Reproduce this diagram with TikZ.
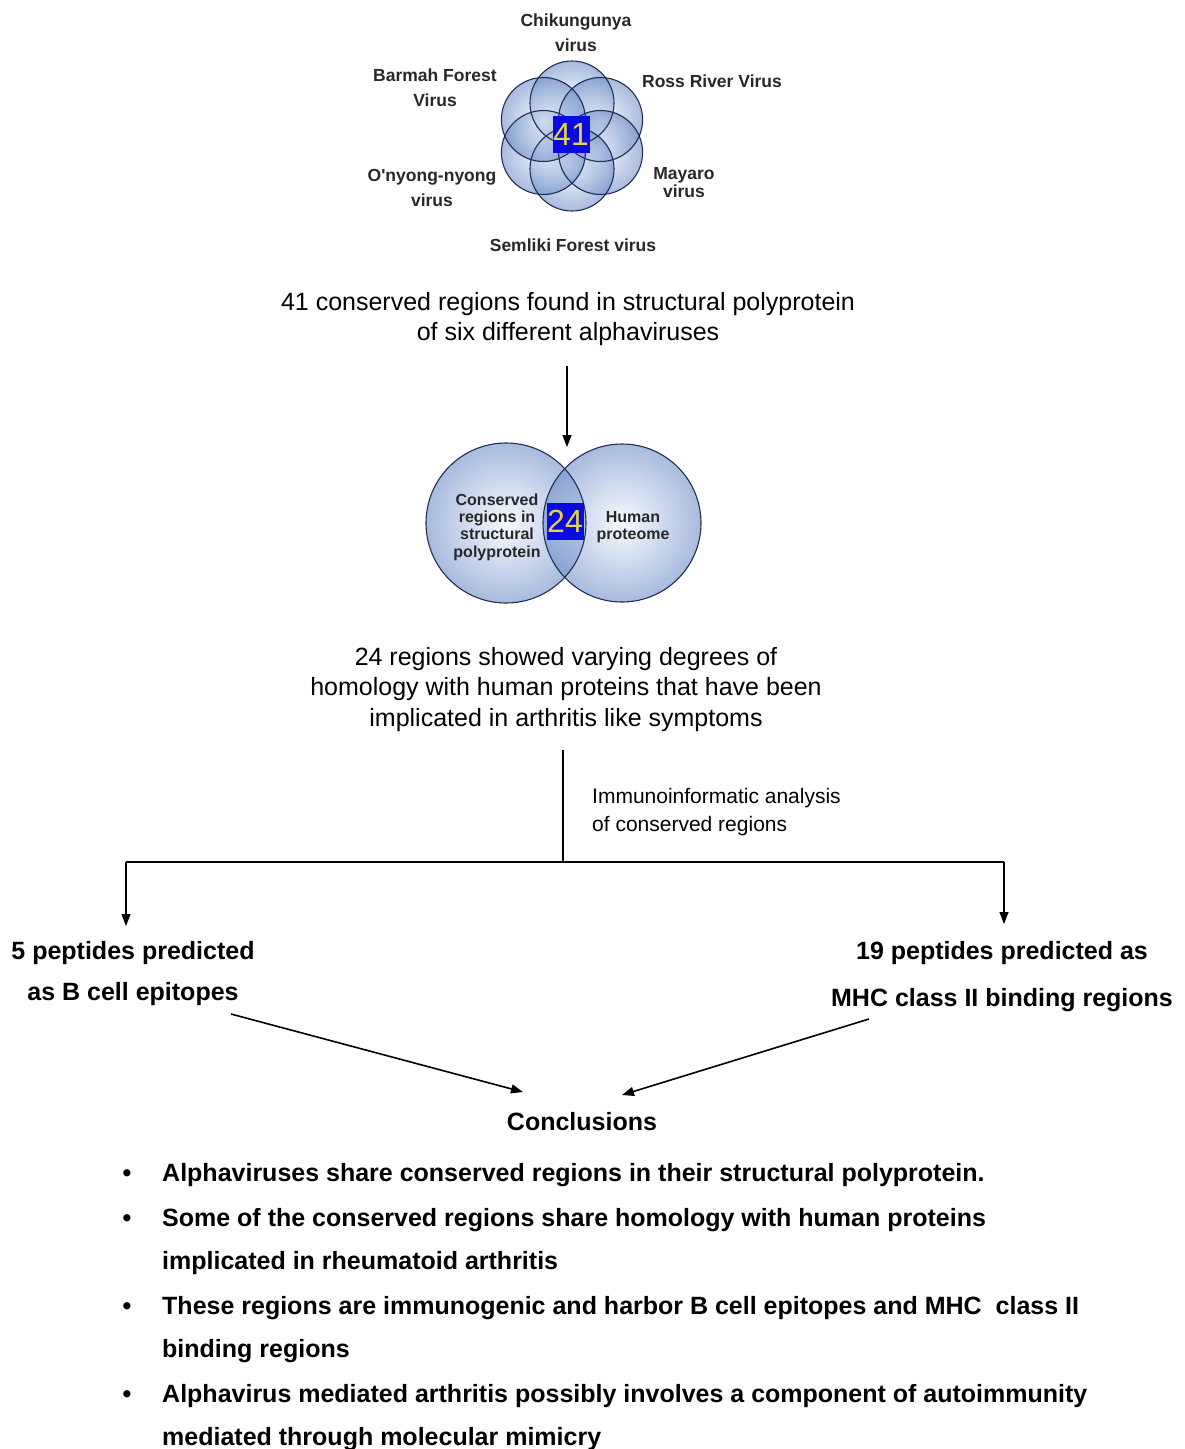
\documentclass[tikz,border=0pt]{standalone}
\usepackage{fontspec}
\setmainfont{Liberation Sans}
\usetikzlibrary{arrows.meta}
\definecolor{bubin}{RGB}{242,247,254}
\definecolor{bubout}{RGB}{110,142,200}
\definecolor{rimc}{RGB}{35,45,85}
\definecolor{sqblue}{RGB}{10,10,225}
\definecolor{numyel}{RGB}{225,215,70}
\definecolor{labc}{RGB}{40,40,40}
\begin{document}
\begin{tikzpicture}[x=1pt,y=-1pt,
  bub/.style={inner color=bubin, outer color=bubout, fill opacity=0.6},
  rim/.style={draw=rimc, line width=1.1pt},
  vlab/.style={font=\fontsize{17.5}{25}\selectfont\bfseries, text=labc, align=center, inner sep=0pt, anchor=base},
  clab/.style={font=\fontsize{16}{17.3}\selectfont\bfseries, text=labc, align=center, inner sep=0pt, anchor=base},
  numsq/.style={fill=sqblue, text=numyel, minimum size=37pt, inner sep=0pt, font=\fontsize{32}{32}\selectfont},
  body/.style={font=\fontsize{25}{30}\selectfont, align=center, inner sep=0pt, anchor=base},
  bbody/.style={font=\fontsize{25}{41}\selectfont\bfseries, align=center, inner sep=0pt, anchor=base},
  concl/.style={font=\fontsize{25}{43.5}\selectfont\bfseries, align=left, inner sep=0pt, anchor=base west},
  arr/.style={-{Triangle[length=12pt,width=9pt]}, line width=1.3pt},
  ln/.style={line width=1.1pt}
]
\useasboundingbox (0,0) rectangle (1185,1449);
% six-circle venn
\foreach \cx/\cy in {572/103, 600.6/119.5, 600.6/152.5, 572/169, 543.4/152.5, 543.4/119.5}
  \shade[bub] (\cx,\cy) circle[radius=42];
\foreach \cx/\cy in {572/103, 600.6/119.5, 600.6/152.5, 572/169, 543.4/152.5, 543.4/119.5}
  \draw[rim] (\cx,\cy) circle[radius=42];
\node[numsq] (n41) at (571,134) {41};
\node[vlab] (chik) at (576,51.5) {Chikungunya\\virus};
\node[vlab] (barmah) at (435,106.5) {Barmah Forest\\Virus};
\node[vlab] (ross) at (712,87.5) {Ross River Virus};
\node[vlab] (onyong) at (432,206.5) {O\textquotesingle nyong-nyong\\virus};
\node[vlab, font=\fontsize{17.5}{18}\selectfont\bfseries] (mayaro) at (684,197.5) {Mayaro\\virus};
\node[vlab] (semliki) at (573,251.5) {Semliki Forest virus};
\node[body] (t41) at (568,340) {41 conserved regions found in structural polyprotein\\of six different alphaviruses};
% two-circle venn
\shade[bub] (506,523) circle[radius=80];
\shade[bub] (622,523) circle[radius=79];
\draw[rim] (506,523) circle[radius=80];
\draw[rim] (622,523) circle[radius=79];
\node[numsq] (n24) at (565,521) {24};
\node[clab] (cons) at (497,557) {Conserved\\regions in\\structural\\polyprotein};
\node[clab] (human) at (633,539.3) {Human\\proteome};
\coordinate (a1s) at (567,366);
\coordinate (a1e) at (567,447);
\draw[arr] (a1s) -- (a1e);
\node[body, font=\fontsize{25}{30.5}\selectfont] (t24) at (566,726) {24 regions showed varying degrees of\\homology with human proteins that have been\\implicated in arthritis like symptoms};
% branching
\coordinate (vtop) at (563,750);
\coordinate (vbot) at (563,862);
\coordinate (hl) at (126,862);
\coordinate (hr) at (1004,862);
\coordinate (dl) at (126,926);
\coordinate (dr) at (1004,924);
\draw[ln] (vtop) -- (vbot);
\draw[ln] (hl) -- (hr);
\draw[arr] (hl) -- (dl);
\draw[arr] (hr) -- (dr);
\node[font=\fontsize{21}{28}\selectfont, align=left, inner sep=0pt, anchor=base west] (immuno) at (592,831.5) {Immunoinformatic analysis\\of conserved regions};
\node[bbody] (bcell) at (133,1000) {5 peptides predicted\\as B cell epitopes};
\node[bbody, font=\fontsize{25}{47}\selectfont\bfseries] (mhc) at (1002,1006) {19 peptides predicted as\\MHC class II binding regions};
\coordinate (bl1) at (231,1014);
\coordinate (bl2) at (523,1092);
\coordinate (br1) at (869,1019);
\coordinate (br2) at (622,1095);
\draw[arr, line width=1.6pt] (bl1) -- (bl2);
\draw[arr, line width=1.6pt] (br1) -- (br2);
\node[bbody] (concl) at (582,1130) {Conclusions};
% bullets
\foreach \by in {1181, 1226, 1314, 1402}
  \node[font=\fontsize{25}{30}\selectfont\bfseries, inner sep=0pt, anchor=base] at (127,\by) {•};
\node[concl] (c1) at (162,1181) {Alphaviruses share conserved regions in their structural polyprotein.};
\node[concl] (c2) at (162,1269.5) {Some of the conserved regions share homology with human proteins\\implicated in rheumatoid arthritis};
\node[concl] (c3) at (162,1357.5) {These regions are immunogenic and harbor B cell epitopes and MHC\ \ class II\\binding regions};
\node[concl] (c4) at (162,1445.5) {Alphavirus mediated arthritis possibly involves a component of autoimmunity\\mediated through molecular mimicry};
\end{tikzpicture}
\end{document}
